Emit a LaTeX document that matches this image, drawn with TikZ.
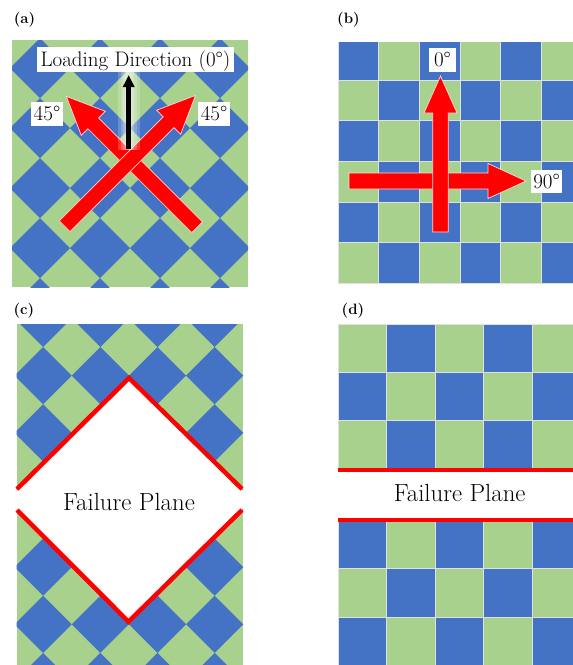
\documentclass[tikz,border=0pt]{standalone}
\usetikzlibrary{calc,arrows.meta}
\definecolor{cb}{HTML}{4472C4}
\definecolor{cg}{HTML}{A9D18E}
% block arrow: #1 tail, #2 tip, #3 half shaft, #4 half head, #5 head length
\newcommand\blockarr[5]{%
  \coordinate (bb) at ($(#2)!#5!(#1)$);
  \filldraw[arrowred] ($(#1)!#3!90:(#2)$) -- ($(bb)!#3!-90:(#1)$) -- ($(bb)!#4!-90:(#1)$) -- (#2) -- ($(bb)!#4!90:(#1)$) -- ($(bb)!#3!90:(#1)$) -- ($(#1)!#3!-90:(#2)$) -- cycle;}
\begin{document}
\begin{tikzpicture}[x=1pt,y=-1pt,
  arrowred/.style={fill=red, draw=white!85!red, line width=0.7pt, line join=miter},
  lbox/.style={fill=white, inner sep=0pt, font=\fontsize{21}{23}\selectfont},
  plab/.style={font=\bfseries\fontsize{15}{17}\selectfont, inner sep=0pt},
  fail/.style={font=\fontsize{24.8}{27}\selectfont, inner sep=0pt, anchor=base},
  redline/.style={draw=red, line width=4.5pt},
  redflat/.style={draw=red, line width=4pt},
  cellln/.style={draw=black!12, line width=0.4pt}]
\useasboundingbox (0,0) rectangle (573,665);
\fill[white] (0,0) rectangle (573,665);

% ---------------- panel (a) ----------------
\begin{scope}
  \clip (12,40) rectangle (248,287);
  \fill[cg] (12,40) rectangle (248,287);
  \foreach \cx in {-20,40,100,160,220,280} {
    \foreach \cy in {8,68,128,188,248,308} {
      \fill[cb] (\cx-30,\cy) -- (\cx,\cy-30) -- (\cx+30,\cy) -- (\cx,\cy+30) -- cycle;
    }
  }
\end{scope}
\coordinate (a2t) at (197.2,227.2);
\coordinate (a2h) at (66.4,96.4);
\coordinate (a1t) at (64.7,226.2);
\coordinate (a1h) at (195.5,95.4);
\blockarr{a2t}{a2h}{7.6pt}{17pt}{38pt}
\blockarr{a1t}{a1h}{7.6pt}{17pt}{38pt}
% soft glow behind black arrow
\coordinate (k0) at (128.7,149);
\coordinate (k1) at (128.7,75);
\foreach \w in {22pt,16pt,11pt,7pt} {
  \draw[white, opacity=0.2, line width=\w] (128.7,150) -- (128.7,72);
}
\draw[line width=4.5pt, -{Triangle[length=12pt,width=11pt]}] (k0) -- (k1);
\node[lbox, minimum width=197pt, minimum height=25pt, text height=19.7pt, text depth=5.3pt] (ld) at (135.5,59.5) {Loading Direction (0°)};
\node[lbox, minimum width=32pt, minimum height=24pt, text height=18pt, text depth=6pt] (l45a) at (47,114) {45°};
\node[lbox, minimum width=32pt, minimum height=24pt, text height=18pt, text depth=6pt] (l45b) at (214,114) {45°};
\node[plab] (pa) at (24.5,19.5) {(a)};

% ---------------- panel (b) ----------------
\begin{scope}
  \clip (338,42) rectangle (573,283);
  \fill[cg] (338,42) rectangle (573,283);
  \foreach \r in {0,...,5} {
    \foreach \c in {0,...,5} {
      \pgfmathtruncatemacro\pq{mod(\r+\c,2)}
      \ifnum\pq=0
        \fill[cb] (338+40.6*\c,39.4+40.6*\r) rectangle (378.6+40.6*\c,80+40.6*\r);
      \fi
      \draw[cellln] (338+40.6*\c,39.4+40.6*\r) rectangle (378.6+40.6*\c,80+40.6*\r);
    }
  }
\end{scope}
\coordinate (bht) at (349,181);
\coordinate (bhh) at (526,181);
\coordinate (bvt) at (440.5,232);
\coordinate (bvh) at (440.5,76);
\blockarr{bht}{bhh}{8pt}{17.5pt}{38pt}
\blockarr{bvt}{bvh}{7.8pt}{16.5pt}{37pt}
\node[lbox, minimum width=27pt, minimum height=24pt, text height=18.7pt, text depth=5.3pt] (l0) at (442.5,60) {0°};
\node[lbox, minimum width=31pt, minimum height=23pt, text height=18.3pt, text depth=4.7pt] (l90) at (546.5,181.5) {90°};
\node[plab] (pb) at (348.5,19.5) {(b)};

% ---------------- panel (c) ----------------
\begin{scope}
  \clip (16.7,324) -- (243.3,324) -- (243.3,490.5) -- (129,378) -- (16.7,490.3) -- cycle;
  \fill[cg] (16.7,324) rectangle (243.3,500);
  \foreach \cx in {-14.1,43.1,100.3,157.5,214.7,271.9} {
    \foreach \cy in {318.4,375.6,432.8,490} {
      \fill[cb] (\cx-28.6,\cy) -- (\cx,\cy-28.6) -- (\cx+28.6,\cy) -- (\cx,\cy+28.6) -- cycle;
    }
  }
\end{scope}
\begin{scope}
  \clip (16.7,509.7) -- (128.5,621.7) -- (243.3,508.7) -- (243.3,665) -- (16.7,665) -- cycle;
  \fill[cg] (16.7,500) rectangle (243.3,665);
  \foreach \cx in {-14.1,43.1,100.3,157.5,214.7,271.9} {
    \foreach \cy in {509.9,567.1,624.3,681.5} {
      \fill[cb] (\cx-28.6,\cy) -- (\cx,\cy-28.6) -- (\cx+28.6,\cy) -- (\cx,\cy+28.6) -- cycle;
    }
  }
\end{scope}
\coordinate (cul) at (17,489);
\coordinate (cua) at (129,378);
\coordinate (cur) at (242,489);
\coordinate (cll) at (17,510);
\coordinate (cla) at (128.5,621.7);
\coordinate (clr) at (242,510);
\draw[redline] (cul) -- (cua) -- (cur);
\draw[redline] (cll) -- (cla) -- (clr);
\node[fail] (fc) at (129,510) {Failure Plane};
\node[plab] (pc) at (24,310.5) {(c)};

% ---------------- panel (d) ----------------
\begin{scope}
  \clip (337.7,324) rectangle (573,665);
  \foreach \r in {0,1,2} {
    \foreach \c in {0,...,4} {
      \pgfmathtruncatemacro\pq{mod(\r+\c,2)}
      \ifnum\pq=0
        \fill[cg] (337.7+48.5*\c,324+48.3*\r) rectangle (386.2+48.5*\c,372.3+48.3*\r);
        \fill[cb] (337.7+48.5*\c,520.1+48.3*\r) rectangle (386.2+48.5*\c,568.4+48.3*\r);
      \else
        \fill[cb] (337.7+48.5*\c,324+48.3*\r) rectangle (386.2+48.5*\c,372.3+48.3*\r);
        \fill[cg] (337.7+48.5*\c,520.1+48.3*\r) rectangle (386.2+48.5*\c,568.4+48.3*\r);
      \fi
      \draw[cellln] (337.7+48.5*\c,324+48.3*\r) rectangle (386.2+48.5*\c,372.3+48.3*\r);
      \draw[cellln] (337.7+48.5*\c,520.1+48.3*\r) rectangle (386.2+48.5*\c,568.4+48.3*\r);
    }
  }
\end{scope}
\coordinate (dul) at (337.7,470.3);
\coordinate (dur) at (573,470.3);
\coordinate (dll) at (337.7,519.7);
\coordinate (dlr) at (573,519.7);
\draw[redflat] (dul) -- (dur);
\draw[redflat] (dll) -- (dlr);
\node[fail] (fd) at (459.7,501.7) {Failure Plane};
\node[plab] (pd) at (353,310.5) {(d)};
\end{tikzpicture}
\end{document}
